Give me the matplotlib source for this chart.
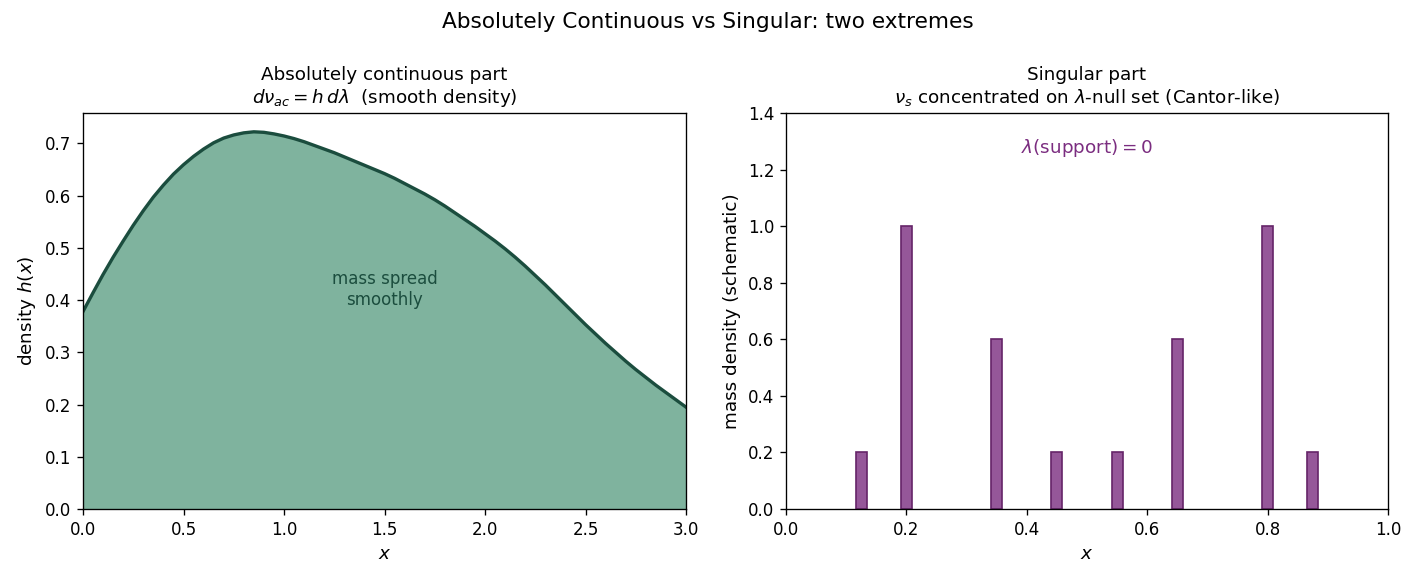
import matplotlib
matplotlib.use('Agg')
import matplotlib.pyplot as plt
import numpy as np

# left panel: smooth density h(x) at 0.05 steps
x_ac = [0.00, 0.05, 0.10, 0.15, 0.20, 0.25, 0.30, 0.35, 0.40, 0.45,
        0.50, 0.55, 0.60, 0.65, 0.70, 0.75, 0.80, 0.85, 0.90, 0.95,
        1.00, 1.05, 1.10, 1.15, 1.20, 1.25, 1.30, 1.35, 1.40, 1.45,
        1.50, 1.55, 1.60, 1.65, 1.70, 1.75, 1.80, 1.85, 1.90, 1.95,
        2.00, 2.05, 2.10, 2.15, 2.20, 2.25, 2.30, 2.35, 2.40, 2.45,
        2.50, 2.55, 2.60, 2.65, 2.70, 2.75, 2.80, 2.85, 2.90, 2.95, 3.00]
h_ac = [0.378, 0.414, 0.449, 0.482, 0.513, 0.543, 0.571, 0.597, 0.620, 0.641,
        0.659, 0.675, 0.689, 0.701, 0.710, 0.716, 0.720, 0.722, 0.721, 0.718,
        0.714, 0.709, 0.703, 0.696, 0.689, 0.682, 0.674, 0.666, 0.658, 0.650,
        0.642, 0.633, 0.623, 0.613, 0.603, 0.592, 0.580, 0.567, 0.554, 0.541,
        0.527, 0.513, 0.498, 0.482, 0.465, 0.447, 0.429, 0.410, 0.391, 0.372,
        0.353, 0.335, 0.317, 0.300, 0.283, 0.267, 0.252, 0.237, 0.223, 0.209, 0.195]

# right panel: singular atoms (schematic)
x_sing = [0.125, 0.2, 0.35, 0.45, 0.55, 0.65, 0.8, 0.875]
m_sing = [0.2, 1.0, 0.6, 0.2, 0.2, 0.6, 1.0, 0.2]

GREEN_FILL = "#7fb39e"
GREEN_LINE = "#1b4d3e"
PURPLE = "#7b2d80"

fig = plt.figure(figsize=(1415 / 120, 579 / 120), dpi=120)
ax1 = fig.add_axes([83 / 1415, 70 / 579, 603 / 1415, 396 / 579])
ax2 = fig.add_axes([786 / 1415, 70 / 579, 602 / 1415, 396 / 579])

# 絕對連續部分
ax1.fill_between(x_ac, h_ac, 0, color=GREEN_FILL)
ax1.plot(x_ac, h_ac, color=GREEN_LINE, linewidth=2.0)
ax1.set_xlim(0, 3)
ax1.set_ylim(0, 0.758)
ax1.text(1.5, 0.42, "mass spread\nsmoothly", ha='center', va='center',
         fontsize=10, color=GREEN_LINE)
ax1.set_title("Absolutely continuous part\n"
              r"$d\nu_{ac} = h\,d\lambda$  (smooth density)", fontsize=11)
ax1.set_xlabel(r"$x$", fontsize=11)
ax1.set_ylabel(r"density $h(x)$", fontsize=11)

# 奇異部分
face = matplotlib.colors.to_rgba(PURPLE, 0.8)
ax2.bar(x_sing, m_sing, width=0.018, facecolor=face,
        edgecolor="#652468", linewidth=1.0)
ax2.set_xlim(0, 1)
ax2.set_ylim(0, 1.4)
ax2.text(0.5, 1.275, r"$\lambda(\mathrm{support}) = 0$", ha='center',
         va='center', fontsize=11, color=PURPLE)
ax2.set_title("Singular part\n"
              r"$\nu_s$ concentrated on $\lambda$-null set (Cantor-like)",
              fontsize=11)
ax2.set_xlabel(r"$x$", fontsize=11)
ax2.set_ylabel("mass density (schematic)", fontsize=11)

fig.suptitle("Absolutely Continuous vs Singular: two extremes",
             fontsize=13, y=0.962, va='center')

fig.savefig("out.png", dpi=120)
